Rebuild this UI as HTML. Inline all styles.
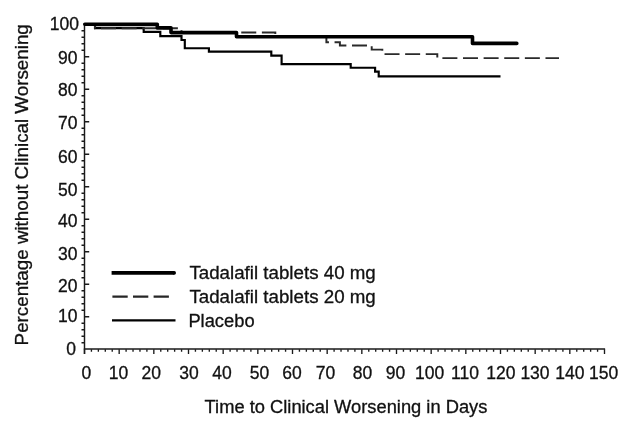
<!DOCTYPE html>
<html><head><meta charset="utf-8"><style>
html,body{margin:0;padding:0;background:#fff;}
body{width:623px;height:427px;overflow:hidden;font-family:"Liberation Sans", sans-serif;}
svg{display:block;will-change:transform;}
text{stroke:#111;stroke-width:0.3px;}
</style></head><body>
<svg width="623" height="427" viewBox="0 0 623 427">
<rect width="623" height="427" fill="#fff"/>
<line x1="84.50" y1="23" x2="84.50" y2="354" stroke="#1a1a1a" stroke-width="1.45" fill="none"/>
<line x1="83.80" y1="349.00" x2="605.10" y2="349.00" stroke="#1a1a1a" stroke-width="1.45" fill="none"/>
<path d="M81.50 342.70H84.50M81.50 336.20H84.50M81.50 329.70H84.50M81.50 323.20H84.50M84.50 316.70H89.20M81.50 310.20H84.50M81.50 303.70H84.50M81.50 297.20H84.50M81.50 290.70H84.50M84.50 284.20H89.20M81.50 277.70H84.50M81.50 271.20H84.50M81.50 264.70H84.50M81.50 258.20H84.50M84.50 251.70H89.20M81.50 245.20H84.50M81.50 238.70H84.50M81.50 232.20H84.50M81.50 225.70H84.50M84.50 219.20H89.20M81.50 212.70H84.50M81.50 206.20H84.50M81.50 199.70H84.50M81.50 193.20H84.50M84.50 186.70H89.20M81.50 180.20H84.50M81.50 173.70H84.50M81.50 167.20H84.50M81.50 160.70H84.50M84.50 154.20H89.20M81.50 147.70H84.50M81.50 141.20H84.50M81.50 134.70H84.50M81.50 128.20H84.50M84.50 121.70H89.20M81.50 115.20H84.50M81.50 108.70H84.50M81.50 102.20H84.50M81.50 95.70H84.50M84.50 89.20H89.20M81.50 82.70H84.50M81.50 76.20H84.50M81.50 69.70H84.50M81.50 63.20H84.50M84.50 56.70H89.20M81.50 50.20H84.50M81.50 43.70H84.50M81.50 37.20H84.50M81.50 30.70H84.50M84.50 24.20H89.20M84.50 349.20V354.00M91.43 349.20V351.80M98.37 349.20V351.80M105.30 349.20V351.80M112.23 349.20V351.80M119.17 349.20V354.00M126.10 349.20V351.80M133.03 349.20V351.80M139.97 349.20V351.80M146.90 349.20V351.80M153.83 349.20V354.00M160.77 349.20V351.80M167.70 349.20V351.80M174.63 349.20V351.80M181.57 349.20V351.80M188.50 349.20V354.00M195.43 349.20V351.80M202.37 349.20V351.80M209.30 349.20V351.80M216.23 349.20V351.80M223.17 349.20V354.00M230.10 349.20V351.80M237.03 349.20V351.80M243.97 349.20V351.80M250.90 349.20V351.80M257.83 349.20V354.00M264.77 349.20V351.80M271.70 349.20V351.80M278.63 349.20V351.80M285.57 349.20V351.80M292.50 349.20V354.00M299.43 349.20V351.80M306.37 349.20V351.80M313.30 349.20V351.80M320.23 349.20V351.80M327.17 349.20V354.00M334.10 349.20V351.80M341.03 349.20V351.80M347.97 349.20V351.80M354.90 349.20V351.80M361.83 349.20V354.00M368.77 349.20V351.80M375.70 349.20V351.80M382.63 349.20V351.80M389.57 349.20V351.80M396.50 349.20V354.00M403.43 349.20V351.80M410.37 349.20V351.80M417.30 349.20V351.80M424.23 349.20V351.80M431.17 349.20V354.00M438.10 349.20V351.80M445.03 349.20V351.80M451.97 349.20V351.80M458.90 349.20V351.80M465.83 349.20V354.00M472.77 349.20V351.80M479.70 349.20V351.80M486.63 349.20V351.80M493.57 349.20V351.80M500.50 349.20V354.00M507.43 349.20V351.80M514.37 349.20V351.80M521.30 349.20V351.80M528.23 349.20V351.80M535.17 349.20V354.00M542.10 349.20V351.80M549.03 349.20V351.80M555.97 349.20V351.80M562.90 349.20V351.80M569.83 349.20V354.00M576.77 349.20V351.80M583.70 349.20V351.80M590.63 349.20V351.80M597.57 349.20V351.80M604.50 349.20V354.00" stroke="#1a1a1a" stroke-width="1.35" fill="none"/>
<g font-size="17.5" fill="#111" style="font-family:"Liberation Sans", sans-serif"><text x="75.90" y="355.10" text-anchor="end">0</text><text x="77.50" y="322.00" text-anchor="end">10</text><text x="77.50" y="291.75" text-anchor="end">20</text><text x="77.50" y="260.35" text-anchor="end">30</text><text x="77.50" y="227.25" text-anchor="end">40</text><text x="77.50" y="195.70" text-anchor="end">50</text><text x="77.50" y="162.55" text-anchor="end">60</text><text x="77.50" y="129.25" text-anchor="end">70</text><text x="77.50" y="96.35" text-anchor="end">80</text><text x="77.50" y="63.75" text-anchor="end">90</text><text x="79.00" y="30.45" text-anchor="end">100</text><text x="86.30" y="378.6" text-anchor="middle">0</text><text x="118.40" y="378.6" text-anchor="middle">10</text><text x="151.30" y="378.6" text-anchor="middle">20</text><text x="189.00" y="378.6" text-anchor="middle">30</text><text x="222.00" y="378.6" text-anchor="middle">40</text><text x="259.60" y="378.6" text-anchor="middle">50</text><text x="292.00" y="378.6" text-anchor="middle">60</text><text x="325.40" y="378.6" text-anchor="middle">70</text><text x="362.50" y="378.6" text-anchor="middle">80</text><text x="395.60" y="378.6" text-anchor="middle">90</text><text x="429.70" y="378.6" text-anchor="middle">100</text><text x="465.00" y="378.6" text-anchor="middle">110</text><text x="500.80" y="378.6" text-anchor="middle">120</text><text x="535.00" y="378.6" text-anchor="middle">130</text><text x="569.80" y="378.6" text-anchor="middle">140</text><text x="603.60" y="378.6" text-anchor="middle">150</text></g>
<text x="204.6" y="412.7" font-size="17.5" fill="#111" textLength="282.8" lengthAdjust="spacingAndGlyphs" style="font-family:"Liberation Sans", sans-serif">Time to Clinical Worsening in Days</text>
<text transform="translate(28.4 345.4) rotate(-90)" x="0" y="0" font-size="17.5" fill="#111" textLength="321.2" lengthAdjust="spacingAndGlyphs" style="font-family:"Liberation Sans", sans-serif">Percentage without Clinical Worsening</text>
<path d="M111.6 272.9H174.2" stroke="#000" stroke-width="3.6" stroke-linecap="butt"/><circle cx="174.2" cy="272.9" r="1.8" fill="#000"/>
<line x1="112.4" y1="296.6" x2="169" y2="296.6" stroke="#262626" stroke-width="2.1" stroke-dasharray="15.3 5.3"/>
<line x1="112" y1="320.3" x2="175.5" y2="320.3" stroke="#000" stroke-width="2.2"/>
<g font-size="17.5" fill="#111" style="font-family:"Liberation Sans", sans-serif"><text x="189.4" y="279" textLength="186.4" lengthAdjust="spacingAndGlyphs">Tadalafil tablets 40 mg</text><text x="189.4" y="303" textLength="186.4" lengthAdjust="spacingAndGlyphs">Tadalafil tablets 20 mg</text><text x="188.4" y="327.3" textLength="66.2" lengthAdjust="spacingAndGlyphs">Placebo</text></g>
<line x1="96" y1="26.6" x2="156" y2="26.6" stroke="#b0b0b0" stroke-width="0.8"/>
<path d="M84.50 24.20H95.00V28.10H143.70V31.80H160.30V36.10H181.50V40.00H184.80V48.20H208.90V51.60H271.30V55.60H281.60V64.20H350.70V67.70H375.10V71.60H378.70V76.30H500.50" stroke="#000" stroke-width="2.15" fill="none" stroke-linejoin="miter"/>
<path d="M84.50 24.20H95.00V28.30H181.50V32.40H275.30V36.40H326.40V42.20H339.90V45.40H371.70V49.60H382.30V54.10H437.30V58.10H559.00" stroke="#2a2a2a" stroke-width="1.95" fill="none" stroke-dasharray="15 5.62" stroke-dashoffset="0"/>
<path d="M84.80 24.20H157.30V27.90H171.00V32.60H236.50V36.75H472.50V43.40H516.80" stroke="#000" stroke-width="3.6" fill="none" stroke-linecap="round" stroke-linejoin="round"/>
</svg>
</body></html>
